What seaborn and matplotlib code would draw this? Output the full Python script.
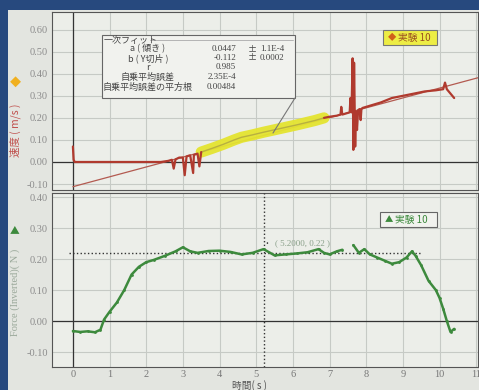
import pandas as pd
import matplotlib.pyplot as plt
import seaborn as sns
from matplotlib.patches import Rectangle
from matplotlib.lines import Line2D

# Velocity (top panel)
t_vel_start = [0, 0.02, 0.05, 0.5, 1.0, 1.5, 2.0, 2.4, 2.6, 2.7, 2.75, 2.8, 2.9, 3.0, 3.05,
               3.1, 3.15, 3.2, 3.28, 3.3, 3.35, 3.4, 3.45, 3.5]
v_vel_start = [0.07, 0.01, 0.0, 0.0, 0.0, 0.0, 0.0, 0.0, 0.005, 0.01, -0.03, 0.012, 0.02, 0.02, -0.06,
               0.025, 0.028, 0.03, -0.05, 0.032, 0.035, 0.038, -0.02, 0.045]
t_vel_sel = [3.5, 3.8, 4.1, 4.4, 4.6, 4.9, 5.2, 5.5, 5.8, 6.1, 6.4, 6.6, 6.85]
v_vel_sel = [0.045, 0.062, 0.08, 0.1, 0.112, 0.123, 0.135, 0.146, 0.157, 0.168, 0.18, 0.188, 0.2]
t_vel_end = [6.85, 7.0, 7.2, 7.3, 7.32, 7.35, 7.45, 7.55, 7.57, 7.6, 7.63, 7.65, 7.67, 7.7, 7.72,
             7.75, 7.78, 7.82, 7.85, 7.87, 7.9, 8.1, 8.4, 8.7, 9.0, 9.3, 9.6, 9.9, 10.1, 10.15,
             10.2, 10.3, 10.4]
v_vel_end = [0.2, 0.205, 0.21, 0.215, 0.25, 0.215, 0.22, 0.225, 0.29, 0.225, 0.47, 0.055, 0.45, 0.07, 0.23,
             0.145, 0.235, 0.24, 0.19, 0.24, 0.245, 0.255, 0.27, 0.29, 0.3, 0.31, 0.32, 0.325, 0.33, 0.36,
             0.33, 0.31, 0.29]

# Linear fit results
fit_a = 0.0447
fit_b = -0.112
fit_t = [0, 11.1]

# Force (bottom panel)
t_force_1 = [0, 0.2, 0.4, 0.6, 0.75, 0.85, 1.0, 1.2, 1.4, 1.6, 1.8, 2.0, 2.2, 2.5, 2.8, 3.0, 3.2,
             3.4, 3.7, 4.0, 4.3, 4.6, 4.9, 5.2, 5.5, 5.8, 6.1, 6.4, 6.7, 6.85, 7.0, 7.2, 7.35]
f_force_1 = [-0.032, -0.035, -0.033, -0.036, -0.028, 0.005, 0.03, 0.06, 0.1, 0.15, 0.175, 0.19, 0.197,
             0.21, 0.225, 0.238, 0.225, 0.22, 0.226, 0.227, 0.223, 0.215, 0.22, 0.232, 0.212, 0.215,
             0.218, 0.222, 0.232, 0.22, 0.215, 0.225, 0.23]
t_force_2 = [7.65, 7.8, 7.95, 8.1, 8.3, 8.5, 8.7, 8.9, 9.1, 9.25, 9.35, 9.5, 9.7, 9.9, 10.0, 10.1,
             10.2, 10.3, 10.4]
f_force_2 = [0.245, 0.22, 0.232, 0.215, 0.205, 0.195, 0.185, 0.19, 0.205, 0.225, 0.21, 0.18, 0.13,
             0.1, 0.075, 0.04, 0.0, -0.035, -0.025]

x_ticks = list(range(0, 12))
top_yticks = [-0.1, 0.0, 0.1, 0.2, 0.3, 0.4, 0.5, 0.6]
bottom_yticks = [-0.1, 0.0, 0.1, 0.2, 0.3, 0.4]

sns.set_style('white')
plt.rcParams['font.family'] = ['Noto Sans CJK JP', 'DejaVu Sans']

W, H = 479, 390


def px(x, y):
    return x / W, 1 - y / H


fig = plt.figure(figsize=(4.79, 3.90), dpi=100)
fig.patch.set_facecolor('#27497e')
fig.add_artist(Rectangle(px(8, H), 1, 1 - 10 / H, transform=fig.transFigure,
                         facecolor='#e3e5e0', edgecolor='none', zorder=0))

ax1 = fig.add_axes([52 / W, 1 - 190 / H, 426 / W, 178 / H])
ax2 = fig.add_axes([52 / W, 1 - 367 / H, 426 / W, 174 / H])

for ax, yt in [(ax1, top_yticks), (ax2, bottom_yticks)]:
    ax.set_facecolor('#eceee9')
    ax.set_xlim(-0.57, 11.05)
    ax.set_xticks(x_ticks)
    ax.set_yticks(yt)
    ax.set_yticklabels([f'{v:.2f}' for v in yt], family='Liberation Serif', fontsize=7.5, color='#8c8c8c')
    ax.grid(True, color='#c6cac5', lw=0.8)
    ax.tick_params(direction='in', length=3, color='#555', pad=3)
    for s in ax.spines.values():
        s.set_color('#555')
        s.set_linewidth(0.8)
    ax.axhline(0, color='#333', lw=0.9, zorder=2)
    ax.axvline(0, color='#333', lw=0.9, zorder=2)

ax1.set_ylim(-0.127, 0.68)
ax1.set_xticklabels([])
ax2.set_ylim(-0.148, 0.413)
ax2.set_xticklabels([str(v) for v in x_ticks], family='Liberation Serif', fontsize=7.5, color='#777')
ax2.tick_params(axis='x', pad=2)

# top panel
sns.lineplot(x=fit_t, y=[fit_a * t + fit_b for t in fit_t], ax=ax1, color='#b35a50', lw=0.9, zorder=3)
sns.lineplot(x=t_vel_sel, y=v_vel_sel, ax=ax1, color='#e4e430', lw=8, alpha=0.95,
             sort=False, estimator=None, zorder=4)
sns.lineplot(x=t_vel_sel, y=v_vel_sel, ax=ax1, color='#b8b040', lw=1, sort=False, estimator=None, zorder=5)
sns.lineplot(x=t_vel_start, y=v_vel_start, ax=ax1, color='#b03a2e', lw=1.6, sort=False, estimator=None, zorder=5)
sns.lineplot(x=t_vel_end, y=v_vel_end, ax=ax1, color='#b03a2e', lw=1.6, sort=False, estimator=None, zorder=5)

# bottom panel
ax2.axvline(5.2, color='#333', ls=':', lw=1, zorder=3)
ax2.plot([-0.1, 9.5], [0.22, 0.22], color='#333', ls=':', lw=1, zorder=3)
for tt, ff in [(t_force_1, f_force_1), (t_force_2, f_force_2)]:
    sns.lineplot(x=tt, y=ff, ax=ax2, color='#3d8a3d', lw=1.8, marker='o', markersize=2,
                 markeredgewidth=0, sort=False, estimator=None, zorder=4)
ax2.text(5.3, 0.247, '·', color='#333', fontsize=9, ha='center', va='center')
ax2.text(5.5, 0.25, '( 5.2000, 0.22 )', color='#8aa08a', fontsize=6.5, family='Liberation Serif',
         ha='left', va='center')
ax1.set_xlabel('')
ax2.set_xlabel('')
ax1.set_ylabel('')
ax2.set_ylabel('')

# fit callout box
fig.add_artist(Rectangle(px(102, 98), 193 / W, 63 / H, transform=fig.transFigure,
                         facecolor='#f1f2ee', edgecolor='#666', lw=0.8, zorder=10))
fig.add_artist(Line2D([295 / W, 273 / W], [1 - 98 / H, 1 - 133 / H], transform=fig.transFigure,
                      color='#777', lw=0.8, zorder=10))
fig.add_artist(Line2D([150 / W, 293 / W], [1 - 40 / H, 1 - 40 / H], transform=fig.transFigure,
                      color='#aaa', lw=0.6, zorder=11))
fig.text(*px(104, 40), '一次フィット', fontsize=6.5, color='#444', va='center', zorder=12)
rows = [('a ( 傾き )', '0.0447', '±', '1.1E-4', 49),
        ('b ( Y切片 )', '-0.112', '±', '0.0002', 58),
        ('r', '0.985', '', '', 67),
        ('自乗平均誤差', '2.35E-4', '', '', 77),
        ('自乗平均誤差の平方根', '0.00484', '', '', 87)]
for lab, val, pm, err, y in rows:
    fig.text(*px(148, y), lab, fontsize=6.5, color='#444', ha='center', va='center', zorder=12)
    fig.text(*px(236, y), val, fontsize=6.5, color='#444', ha='right', va='center',
             family='Liberation Serif', zorder=12)
    if pm:
        fig.text(*px(252, y), pm, fontsize=6.5, color='#444', ha='center', va='center', zorder=12)
        fig.text(*px(260, y), err, fontsize=6.5, color='#444', ha='left', va='center',
                 family='Liberation Serif', zorder=12)

# legend boxes
fig.add_artist(Rectangle(px(383, 45), 54 / W, 15 / H, transform=fig.transFigure,
                         facecolor='#eded45', edgecolor='#777', lw=0.8, zorder=10))
fig.text(*px(388, 37.5), '◆', fontsize=6, color='#d0601a', va='center', zorder=12)
fig.text(*px(398, 37.5), '実験 10', fontsize=7, color='#9a5020', va='center', zorder=12)
fig.add_artist(Rectangle(px(380, 227), 57 / W, 15 / H, transform=fig.transFigure,
                         facecolor='#f1f2ee', edgecolor='#666', lw=0.8, zorder=10))
fig.text(*px(385, 219.5), '▲', fontsize=6, color='#3d8a3d', va='center', zorder=12)
fig.text(*px(395, 219.5), '実験 10', fontsize=7, color='#3d8a3d', va='center', zorder=12)

# axis labels
fig.text(*px(15, 82), '◆', fontsize=8, color='#f0b020', ha='center', va='center')
fig.text(*px(15, 130), '速度 ( m/s )', fontsize=7.5, color='#c0504d', rotation=90, ha='center', va='center')
fig.text(*px(15, 230), '▲', fontsize=7, color='#3d8a3d', ha='center', va='center')
fig.text(*px(15, 292), 'Force (Inverted)( N )', fontsize=7.5, color='#9aa89a', rotation=90,
         family='Liberation Serif', ha='center', va='center')
fig.text(*px(232, 385.5), '時間( s )', fontsize=7, color='#555', ha='left', va='center')

fig.savefig('out.png', dpi=100, facecolor=fig.get_facecolor())
